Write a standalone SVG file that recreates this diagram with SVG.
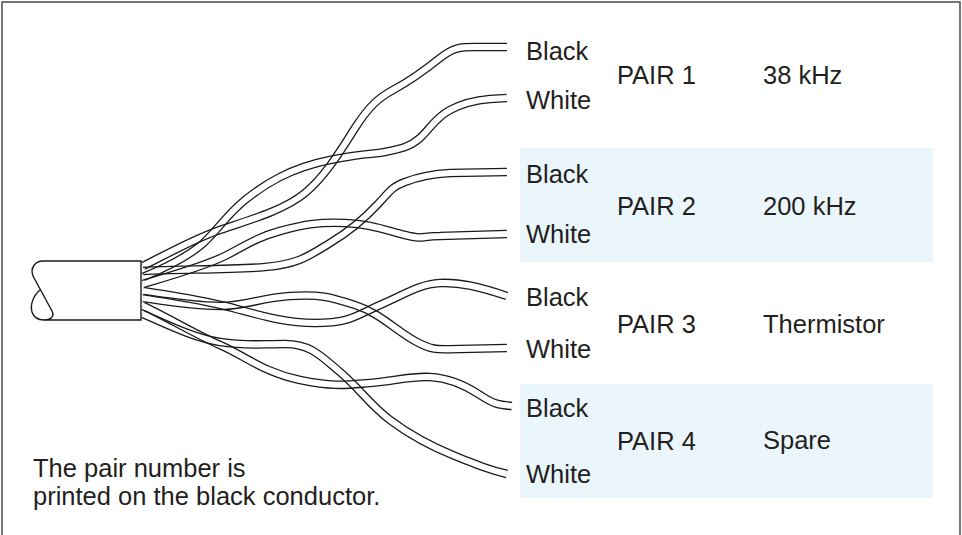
<svg xmlns="http://www.w3.org/2000/svg" xmlns:xlink="http://www.w3.org/1999/xlink" width="962" height="535" viewBox="0 0 962 535">
<style>
.lbl{font-family:"Liberation Sans",Arial,Helvetica,sans-serif;font-size:25.5px;fill:#231f20}
.note{font-family:"Liberation Sans",Arial,Helvetica,sans-serif;font-size:25.5px;fill:#231f20}
.band{fill:#eaf5fc}
.wire{fill:none;stroke:#1a1a1a;stroke-width:8.6}
.mo{fill:none;stroke:#fff;stroke-width:12}
.mi{fill:none;stroke:#000;stroke-width:6}
.cab{fill:none;stroke:#1a1a1a;stroke-width:1.4}
</style>
<defs>
<path id="w1" d="M143,266 C165,255 192,240 217,231 S282,212 305,193 S345,143 357,125 S378,98 393,90 S425,70 440,58 S462,47 480,47 L507,47"/>
<path id="w2" d="M143,277 C165,268 185,258 200,246 S225,216 245,200 S290,168 330,160 S370,155 385,152 S410,147 420,138 S435,118 450,110 S478,100 490,99 L507,98"/>
<path id="w3" d="M143,271 C180,269 230,270 265,267 S310,255 330,243 S365,218 378,204 S392,187 405,182 S430,174 450,173 L507,172"/>
<path id="w4" d="M143,284 C170,276 205,266 225,256 S255,238 280,231 S320,222 345,223 S385,230 405,235 S420,236 440,236 L507,234"/>
<path id="w5" d="M143,291 C170,295 200,300 225,306 S280,323 315,323 S355,316 380,305 S420,284 440,283 S480,287 507,296"/>
<path id="w6" d="M143,298 C170,302 195,306 220,306 S260,298 290,296 S330,297 355,305 S395,330 415,341 S440,349 460,349 L507,348"/>
<path id="w7" d="M143,314 C170,326 195,338 220,342 S260,344 285,344 S320,355 340,372 S370,405 390,420 S430,446 455,456 S490,470 507,474"/>
<path id="w8" d="M143,306 C165,316 195,334 220,345 S265,373 300,380 S345,385 370,383 S410,376 430,377 S465,385 480,395 S500,405 512,406"/>
<mask id="m1" maskUnits="userSpaceOnUse" x="0" y="0" width="962" height="535"><use xlink:href="#w1" class="mo"/><use xlink:href="#w1" class="mi"/></mask>
<mask id="m2" maskUnits="userSpaceOnUse" x="0" y="0" width="962" height="535"><use xlink:href="#w2" class="mo"/><use xlink:href="#w2" class="mi"/></mask>
<mask id="m3" maskUnits="userSpaceOnUse" x="0" y="0" width="962" height="535"><use xlink:href="#w3" class="mo"/><use xlink:href="#w3" class="mi"/></mask>
<mask id="m4" maskUnits="userSpaceOnUse" x="0" y="0" width="962" height="535"><use xlink:href="#w4" class="mo"/><use xlink:href="#w4" class="mi"/></mask>
<mask id="m5" maskUnits="userSpaceOnUse" x="0" y="0" width="962" height="535"><use xlink:href="#w5" class="mo"/><use xlink:href="#w5" class="mi"/></mask>
<mask id="m6" maskUnits="userSpaceOnUse" x="0" y="0" width="962" height="535"><use xlink:href="#w6" class="mo"/><use xlink:href="#w6" class="mi"/></mask>
<mask id="m7" maskUnits="userSpaceOnUse" x="0" y="0" width="962" height="535"><use xlink:href="#w7" class="mo"/><use xlink:href="#w7" class="mi"/></mask>
<mask id="m8" maskUnits="userSpaceOnUse" x="0" y="0" width="962" height="535"><use xlink:href="#w8" class="mo"/><use xlink:href="#w8" class="mi"/></mask>
</defs>
<rect x="0" y="0" width="962" height="535" fill="#fff"/>
<rect id="frame" x="2" y="2" width="958" height="545" fill="none" stroke="#4a4a4a" stroke-width="1.5"/>
<g id="bands">
<rect class="band" x="520" y="148" width="413" height="114"/>
<rect class="band" x="520" y="384" width="413" height="114"/>
</g>
<g id="cable">
<path class="cab" d="M141,261 L43,261 C35,261 30,268 33,276 L52,311 C55,317 50,320 44,320 L141,320 Z"/>
<path class="cab" d="M40,290 C33,296 30,305 32,312 C34,318 39,320 44,320"/>
</g>
<g id="wires">
<use id="pair1-black" xlink:href="#w1" class="wire" mask="url(#m1)"/>
<use id="pair1-white" xlink:href="#w2" class="wire" mask="url(#m2)"/>
<use id="pair2-black" xlink:href="#w3" class="wire" mask="url(#m3)"/>
<use id="pair2-white" xlink:href="#w4" class="wire" mask="url(#m4)"/>
<use id="pair3-black" xlink:href="#w5" class="wire" mask="url(#m5)"/>
<use id="pair3-white" xlink:href="#w6" class="wire" mask="url(#m6)"/>
<use id="pair4-white" xlink:href="#w7" class="wire" mask="url(#m7)"/>
<use id="pair4-black" xlink:href="#w8" class="wire" mask="url(#m8)"/>
</g>
<g id="pair1">
<text class="lbl" x="526" y="60">Black</text>
<text class="lbl" x="526" y="109">White</text>
<text class="lbl" x="617" y="84">PAIR 1</text>
<text class="lbl" x="763" y="84">38 kHz</text>
</g>
<g id="pair2">
<text class="lbl" x="526" y="183">Black</text>
<text class="lbl" x="526" y="243">White</text>
<text class="lbl" x="617" y="215">PAIR 2</text>
<text class="lbl" x="763" y="215">200 kHz</text>
</g>
<g id="pair3">
<text class="lbl" x="526" y="306">Black</text>
<text class="lbl" x="526" y="358">White</text>
<text class="lbl" x="617" y="333">PAIR 3</text>
<text class="lbl" x="763" y="333">Thermistor</text>
</g>
<g id="pair4">
<text class="lbl" x="526" y="417">Black</text>
<text class="lbl" x="526" y="483">White</text>
<text class="lbl" x="617" y="450">PAIR 4</text>
<text class="lbl" x="763" y="449">Spare</text>
</g>
<g id="note">
<text class="note" x="33" y="477">The pair number is</text>
<text class="note" x="33" y="505">printed on the black conductor.</text>
</g>
</svg>
